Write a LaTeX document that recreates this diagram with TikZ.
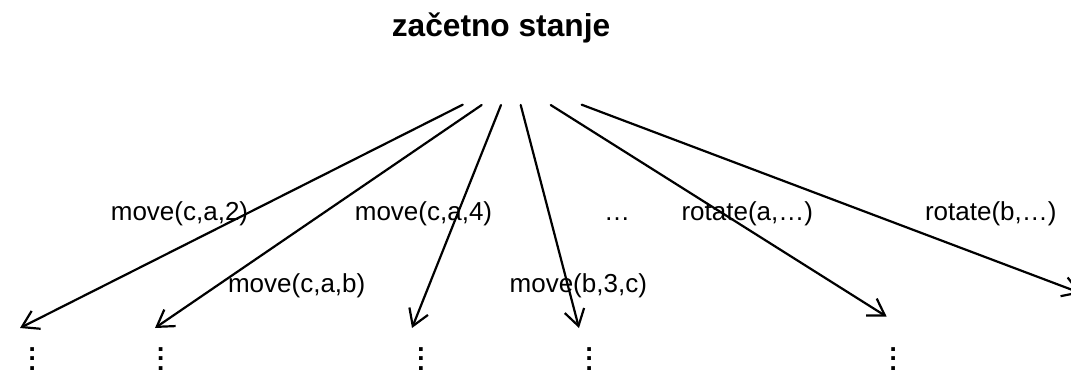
\documentclass[tikz,border=0pt]{standalone}
\usepackage{fontspec}
\setmainfont{Liberation Sans}
\usetikzlibrary{arrows.meta}

\newcommand{\titlefont}{\fontsize{31.7pt}{38pt}\selectfont\bfseries}
\newcommand{\lblfont}{\fontsize{26pt}{31pt}\selectfont}
\newcommand{\dotfont}{\fontsize{26pt}{31pt}\selectfont\bfseries}
% three bold full stops stacked, baseline at the first one
\newcommand{\stackeddots}{\vtop{\baselineskip=9.5pt\hbox{.}\hbox{.}\hbox{.}}}

\tikzset{
  title/.style={font=\titlefont, anchor=base, inner sep=0pt},
  lbl/.style={font=\lblfont, anchor=base, inner sep=0pt},
  vdot/.style={font=\dotfont, anchor=base, inner sep=0pt},
  branch/.style={line width=2.2pt, line cap=round,
    -{Straight Barb[length=16pt,width=20pt,line width=2.2pt]}}
}

\begin{document}
\begin{tikzpicture}[x=1pt,y=-1pt]
  \useasboundingbox (0,0) rectangle (1071,373);
  \clip (0,0) rectangle (1071,373);

  % root state
  \node[title] (root) at (501,36.5) {začetno stanje};

  % branch start points below the root
  \coordinate (s1) at (462.7,104.7);
  \coordinate (s2) at (481.7,105);
  \coordinate (s3) at (501,105);
  \coordinate (s4) at (520.7,105);
  \coordinate (s5) at (550.7,105);
  \coordinate (s6) at (581.7,104.7);

  % branch end points
  \coordinate (e1) at (20,328);
  \coordinate (e2) at (155,328);
  \coordinate (e3) at (412,328);
  \coordinate (e4) at (579,328);
  \coordinate (e5) at (886.7,316.7);
  \coordinate (e6) at (1081,293.2);

  % successor states (elided)
  \node[vdot] (d1) at (32.3,351.1) {\stackeddots};
  \node[vdot] (d2) at (160.7,351.1) {\stackeddots};
  \node[vdot] (d3) at (421,351.1) {\stackeddots};
  \node[vdot] (d4) at (589.3,351.1) {\stackeddots};
  \node[vdot] (d5) at (893.3,351.1) {\stackeddots};

  % branches
  \draw[branch] (s1) -- (e1);
  \draw[branch] (s2) -- (e2);
  \draw[branch] (s3) -- (e3);
  \draw[branch] (s4) -- (e4);
  \draw[branch] (s5) -- (e5);
  \draw[branch] (s6) -- (e6);

  % action labels
  \node[lbl] (l1) at (179.5,220) {move(c,a,2)};
  \node[lbl] (l2) at (423.5,220) {move(c,a,4)};
  \node[lbl] (l3) at (617,220) {…};
  \node[lbl] (l4) at (747.3,220) {rotate(a,…)};
  \node[lbl] (l5) at (990.8,220) {rotate(b,…)};
  \node[lbl] (l6) at (296.7,292) {move(c,a,b)};
  \node[lbl] (l7) at (578.3,292) {move(b,3,c)};
\end{tikzpicture}
\end{document}
